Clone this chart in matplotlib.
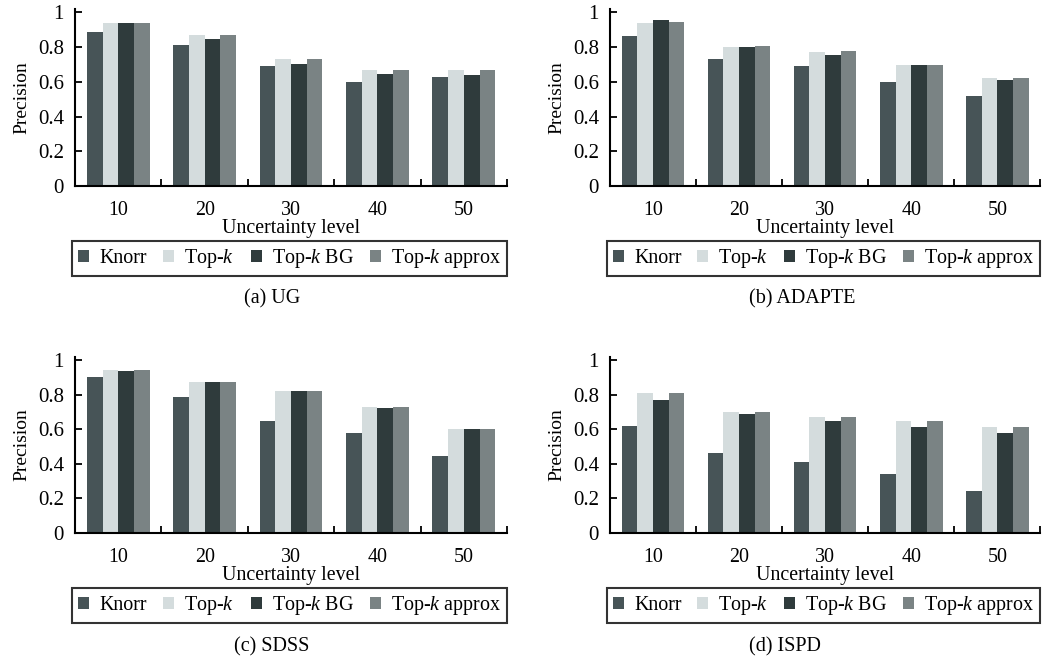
import matplotlib
matplotlib.use("Agg")
import matplotlib.pyplot as plt
import numpy as np

plt.rcParams['font.family'] = ['Liberation Serif', 'DejaVu Serif']
plt.rcParams['mathtext.fontset'] = 'custom'
plt.rcParams['mathtext.rm'] = 'Liberation Serif'
plt.rcParams['mathtext.it'] = 'Liberation Serif:italic'

levels = ['10', '20', '30', '40', '50']
methods = ['Knorr', 'Top-$k$', 'Top-$k$ BG', 'Top-$k$ approx']
colors = ['#475457', '#d4dcdd', '#2f3b3c', '#7a8384']

# precision per dataset, rows = methods, cols = uncertainty level
ug = [[0.89, 0.81, 0.69, 0.60, 0.63],
      [0.94, 0.87, 0.73, 0.67, 0.67],
      [0.94, 0.85, 0.705, 0.645, 0.64],
      [0.94, 0.87, 0.73, 0.67, 0.67]]
adapte = [[0.865, 0.73, 0.69, 0.60, 0.52],
          [0.94, 0.80, 0.775, 0.70, 0.62],
          [0.955, 0.80, 0.755, 0.70, 0.61],
          [0.945, 0.805, 0.78, 0.70, 0.62]]
sdss = [[0.90, 0.785, 0.645, 0.58, 0.445],
        [0.94, 0.87, 0.82, 0.73, 0.60],
        [0.935, 0.875, 0.82, 0.72, 0.60],
        [0.94, 0.87, 0.82, 0.73, 0.60]]
ispd = [[0.62, 0.46, 0.41, 0.34, 0.245],
        [0.81, 0.70, 0.67, 0.645, 0.61],
        [0.77, 0.685, 0.645, 0.61, 0.58],
        [0.81, 0.70, 0.67, 0.645, 0.61]]

datasets = [ug, adapte, sdss, ispd]
captions = ['(a) UG', '(b) ADAPTE', '(c) SDSS', '(d) ISPD']

fig = plt.figure(figsize=(10.42, 6.59), dpi=100)

axes_pos = [[0.072, 0.7178, 0.4146, 0.2685],
            [0.5854, 0.7178, 0.413, 0.2685],
            [0.072, 0.1912, 0.4146, 0.2678],
            [0.5854, 0.1912, 0.413, 0.2678]]
cap_pos = [(0.261, 0.547), (0.770, 0.547), (0.261, 0.019), (0.753, 0.019)]

fs = 14.4
w = 0.182
x = np.arange(len(levels))

for data, pos, cap, cp in zip(datasets, axes_pos, captions, cap_pos):
    ax = fig.add_axes(pos)
    for j, (name, c) in enumerate(zip(methods, colors)):
        ax.bar(x + (j - 1.5) * w, data[j], width=w, color=c, label=name, linewidth=0)
    ax.set_xlim(-0.5, 4.5)
    ax.set_ylim(0, 1.02)
    ax.set_yticks([0, 0.2, 0.4, 0.6, 0.8, 1.0])
    ax.set_yticklabels(['0', '0.2', '0.4', '0.6', '0.8', '1'])
    ax.set_xticks(x)
    ax.set_xticklabels(levels)
    ax.set_xticks(np.arange(0.5, 5, 1), minor=True)
    ax.tick_params(axis='x', which='major', length=0, pad=11, labelsize=fs)
    ax.tick_params(axis='x', which='minor', direction='in', length=5, width=1.3)
    ax.tick_params(axis='y', direction='in', length=5, width=1.3, pad=8, labelsize=15)
    for s in ['top', 'right']:
        ax.spines[s].set_visible(False)
    for s in ['left', 'bottom']:
        ax.spines[s].set_linewidth(1.5)
    ax.set_ylabel('Precision', fontsize=14, labelpad=5)
    ax.set_xlabel('Uncertainty level', fontsize=fs, labelpad=-1)
    leg = ax.legend(ncol=4, loc='upper left', bbox_to_anchor=(-0.007, -0.31, 1.007, 0),
                    mode='expand', borderaxespad=0, fontsize=fs, frameon=True,
                    fancybox=False, edgecolor='black', handlelength=0.55,
                    handleheight=0.55, handletextpad=0.5, columnspacing=0.4,
                    borderpad=0.3)
    leg.get_frame().set_linewidth(1.5)
    fig.text(cp[0], cp[1], cap, fontsize=14.5, ha='center', va='center')

plt.savefig('out.png', dpi=100)
